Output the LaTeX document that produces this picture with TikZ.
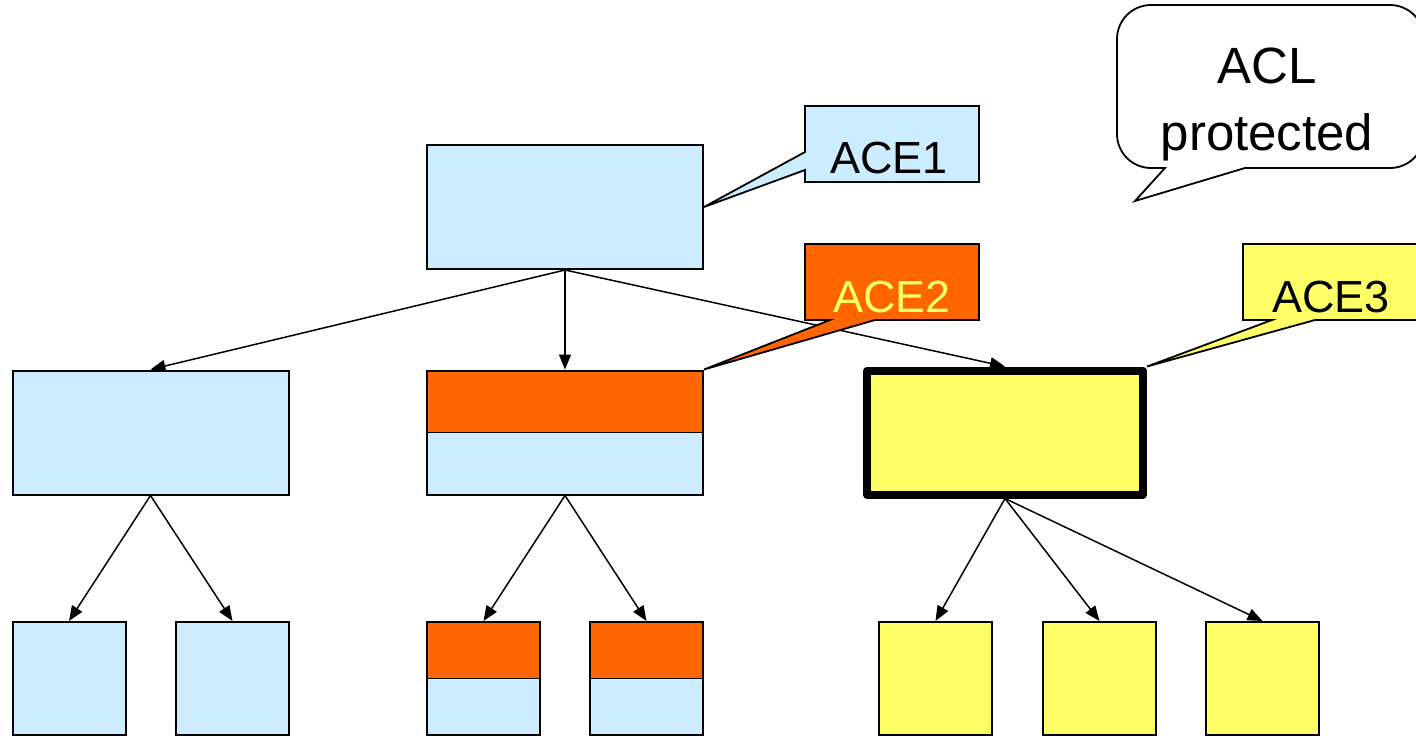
\documentclass[tikz,border=0pt]{standalone}
\usepackage{fontspec}
\setmainfont{Liberation Sans}
\usepackage{xcolor}
\definecolor{paleblue}{HTML}{CCECFF}
\definecolor{aceorange}{HTML}{FF6600}
\definecolor{aceyellow}{HTML}{FFFF66}
\usepackage{tikz}
\usetikzlibrary{arrows.meta,calc}

\begin{document}
\begin{tikzpicture}[
  x=1pt,y=-1pt,
  bigbox/.style={draw,line width=2pt,fill=paleblue,inner sep=0pt,minimum width=276pt,minimum height=124pt},
  smallbox/.style={draw,line width=2pt,fill=paleblue,inner sep=0pt,minimum width=113pt,minimum height=113pt},
  yellowbox/.style={smallbox,fill=aceyellow},
  halfbox/.style={path picture={
      \fill[aceorange] (path picture bounding box.north west) rectangle (path picture bounding box.east);
      \draw[line width=1pt] (path picture bounding box.west) -- (path picture bounding box.east);}},
  callout/.style={draw,line width=1.8pt,line join=miter},
  acetext/.style={anchor=base,inner sep=0pt,font=\fontsize{45}{50}\selectfont},
  bubbletext/.style={anchor=base,inner sep=0pt,font=\fontsize{51}{56}\selectfont},
  link/.style={-{Triangle[length=15pt,width=12pt]},line width=1.5pt}
]
\useasboundingbox (0,0) rectangle (1416,737);
\clip (0,0) rectangle (1416,737);
% tree
\node[bigbox] (root) at (565,207) {};
\node[bigbox] (left) at (150.5,432.5) {};
\node[bigbox,halfbox] (mid) at (565,432.5) {};
\node[bigbox,fill=aceyellow,line width=8pt,line join=round] (right) at (1005,432.5) {};
\node[smallbox] (l1) at (69,678.5) {};
\node[smallbox] (l2) at (232.5,678.5) {};
\node[smallbox,halfbox] (m1) at (483.5,678.5) {};
\node[smallbox,halfbox] (m2) at (646.5,678.5) {};
\node[yellowbox] (r1) at (935.5,678.5) {};
\node[yellowbox] (r2) at (1099.5,678.5) {};
\node[yellowbox] (r3) at (1262.5,678.5) {};
\draw[link] (root.south) -- (left.north);
\draw[link] (root.south) -- (mid.north);
\draw[link] (root.south) -- (right.north);
\draw[link] (left.south) -- (l1.north);
\draw[link] (left.south) -- (l2.north);
\draw[link] (mid.south) -- (m1.north);
\draw[link] (mid.south) -- (m2.north);
\draw[link] (right.south) -- (r1.north);
\draw[link] (right.south) -- (r2.north);
\draw[link] (right.south) -- (r3.north);
% callouts
\draw[callout,fill=paleblue] (805,106) -- (979,106) -- (979,182) -- (805,182) -- (805,170) -- (root.east) -- (805,152) -- cycle;
\node[acetext] (ace1) at (889,173) {ACE1};
\draw[callout,fill=aceorange] (805,244) -- (979,244) -- (979,320) -- (875,320) -- (mid.north east) -- (830,320) -- (805,320) -- cycle;
\node[acetext,text=aceyellow] (ace2) at (892,312) {ACE2};
\draw[callout,fill=aceyellow] (1243,244) -- (1430,244) -- (1430,320) -- (1315,320) -- (right.north east) -- (1272,320) -- (1243,320) -- cycle;
\node[acetext] (ace3) at (1331,312) {ACE3};
% speech bubble
\draw[line width=1.8pt,fill=white] (1245,168) [rounded corners=34pt] -- (1424,168) -- (1424,5) -- (1117,5) -- (1117,168) [sharp corners] -- (1165,168) -- (1135,201) -- cycle;
\node[bubbletext] (acl) at (1267,83) {ACL};
\node[bubbletext] (prot) at (1267,150) {protected};
\end{tikzpicture}
\end{document}
